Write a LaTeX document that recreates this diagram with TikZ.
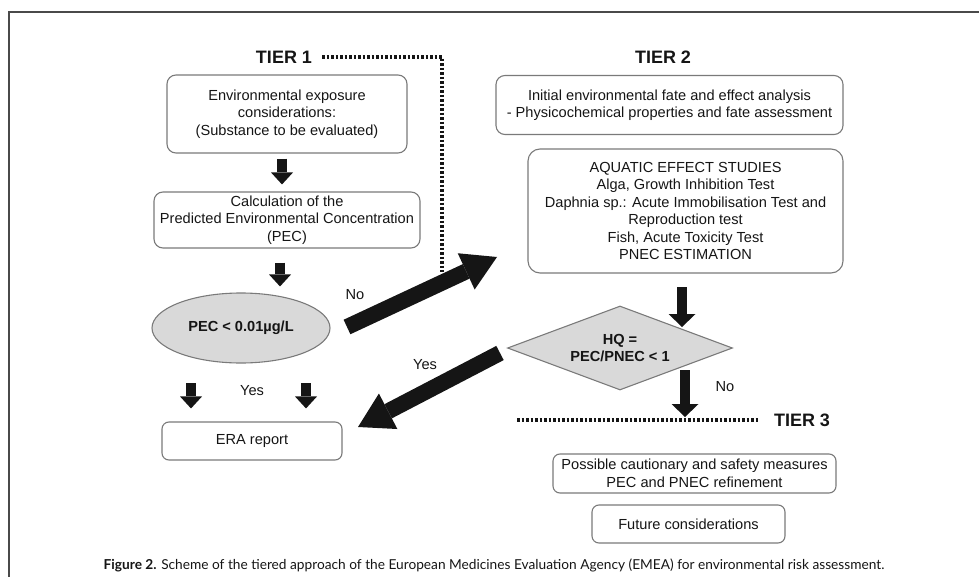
\documentclass[tikz,border=0pt]{standalone}
\usepackage{fontspec}
\setmainfont{Liberation Sans}
\newfontfamily\capfont{Lato}
\usetikzlibrary{arrows.meta,shapes.geometric}

\definecolor{boxline}{HTML}{7A7A7A}
\definecolor{shade}{HTML}{D9D9D9}
\definecolor{ink}{HTML}{151515}
\definecolor{framec}{HTML}{4A4A4A}

\begin{document}
\begin{tikzpicture}[x=1pt,y=-1pt,
  every node/.style={text=ink},
  box/.style={draw=boxline, line width=1.1pt, rounded corners=9pt, align=center,
    inner sep=0pt, font=\fontsize{14.6}{17.5}\selectfont},
  tier/.style={inner sep=0pt, font=\bfseries\fontsize{18}{20}\selectfont},
  lbl/.style={inner sep=0pt, font=\fontsize{14.6}{17}\selectfont},
  decision/.style={draw=boxline, fill=shade, line width=1.1pt, inner sep=0pt, align=center,
    font=\bfseries\fontsize{14.6}{17.5}\selectfont},
  dots/.style={draw=ink, line width=3.2pt, dash pattern=on 2.6pt off 1.9pt},
  smallarr/.style={draw=ink, line width=9.5pt, -{Triangle[width=22pt,length=12pt,line width=0pt]}},
  midarr/.style={draw=ink, line width=10.5pt, -{Triangle[width=27pt,length=13pt,line width=0pt]}},
  bigarr/.style={draw=ink, line width=16pt, -{Triangle[width=40pt,length=34pt,line width=0pt]}}
]
\useasboundingbox (0,0) rectangle (979,577);

% open frame (top and left edges)
\draw[framec, line width=2pt] (9,577) -- (9,12) -- (979,12);

% ---- Tier 1 ----
\node[tier] (t1) at (284,57) {TIER 1};
\node[box, minimum width=240pt, minimum height=78pt] (expo) at (287,114)
  {Environmental exposure\\considerations:\\(Substance to be evaluated)};
\node[box, minimum width=266pt, minimum height=56pt] (calc) at (287,220)
  {Calculation of the\\Predicted Environmental Concentration\\(PEC)};
\node[decision, ellipse, minimum width=178pt, minimum height=70pt] (pec) at (241,328)
  {PEC < 0.01µg/L};
\node[box, rounded corners=7pt, minimum width=180pt, minimum height=38pt] (era) at (252,441)
  {ERA report};

% ---- Tier 2 ----
\node[tier] (t2) at (663,57) {TIER 2};
\node[box, minimum width=347pt, minimum height=59pt] (fate) at (669.5,105)
  {Initial environmental fate and effect analysis\\- Physicochemical properties and fate assessment};
\node[box, rounded corners=12pt, minimum width=315pt, minimum height=124pt] (aqua) at (685.5,211)
  {AQUATIC EFFECT STUDIES\\Alga, Growth Inhibition Test\\Daphnia sp.: Acute Immobilisation Test and\\Reproduction test\\Fish, Acute Toxicity Test\\PNEC ESTIMATION};
\node[decision, diamond, aspect=2.68, minimum width=225pt, minimum height=84pt] (hq) at (620,348)
  {HQ =\\PEC/PNEC < 1};

% ---- Tier 3 ----
\node[tier] (t3) at (802,420) {TIER 3};
\node[box, rounded corners=7pt, minimum width=283pt, minimum height=39pt] (caut) at (694.5,473.5)
  {Possible cautionary and safety measures\\PEC and PNEC refinement};
\node[box, rounded corners=7pt, minimum width=193pt, minimum height=38pt] (fut) at (688.5,524)
  {Future considerations};

% ---- tier separators ----
\coordinate (t1corner) at (442,57);
\coordinate (t1end) at (442,272);
\draw[dots] ([xshift=10pt]t1.east) -- (t1corner) -- (t1end);
\coordinate (t3start) at (517,420);
\draw[dots] (t3start) -- ([xshift=-15pt]t3.west);

% ---- flow arrows ----
\draw[smallarr, shorten <=5pt, shorten >=7pt] ([xshift=-5pt]expo.south) -- ([xshift=-5pt]expo.south |- calc.north);
\draw[smallarr, shorten <=14pt, shorten >=6pt] ([xshift=-7pt]calc.south) -- ([xshift=-7pt]calc.south |- pec.north);

\coordinate (yesL) at (191,383);
\coordinate (yesR) at (306,383);
\draw[smallarr, shorten >=13pt] (yesL) -- (yesL |- era.north);
\draw[smallarr, shorten >=13pt] (yesR) -- (yesR |- era.north);
\node[lbl] (yes1) at (252,391) {Yes};

\coordinate (noTail) at (347,327);
\coordinate (noTip) at (497,257);
\draw[bigarr] (noTail) -- (noTip);
\node[lbl] (no1) at (355,295) {No};

\coordinate (hqTail) at (500,353);
\coordinate (hqTip) at (358,427);
\draw[bigarr] (hqTail) -- (hqTip);
\node[lbl] (yes2) at (425,365) {Yes};

\coordinate (aquaOut) at (682,287);
\coordinate (hqIn) at (682,327);
\draw[midarr] (aquaOut) -- (hqIn);
\coordinate (hqOut) at (685,370);
\coordinate (hqDown) at (685,417);
\draw[midarr] (hqOut) -- (hqDown);
\node[lbl] (no2) at (725,387) {No};

% ---- caption ----
\node[inner sep=0pt, font=\capfont\fontsize{13.7}{15}\selectfont] (cap) at (494,565)
  {\textbf{Figure 2.} Scheme of the tiered approach of the European Medicines Evaluation Agency (EMEA) for environmental risk assessment.};
\end{tikzpicture}
\end{document}
